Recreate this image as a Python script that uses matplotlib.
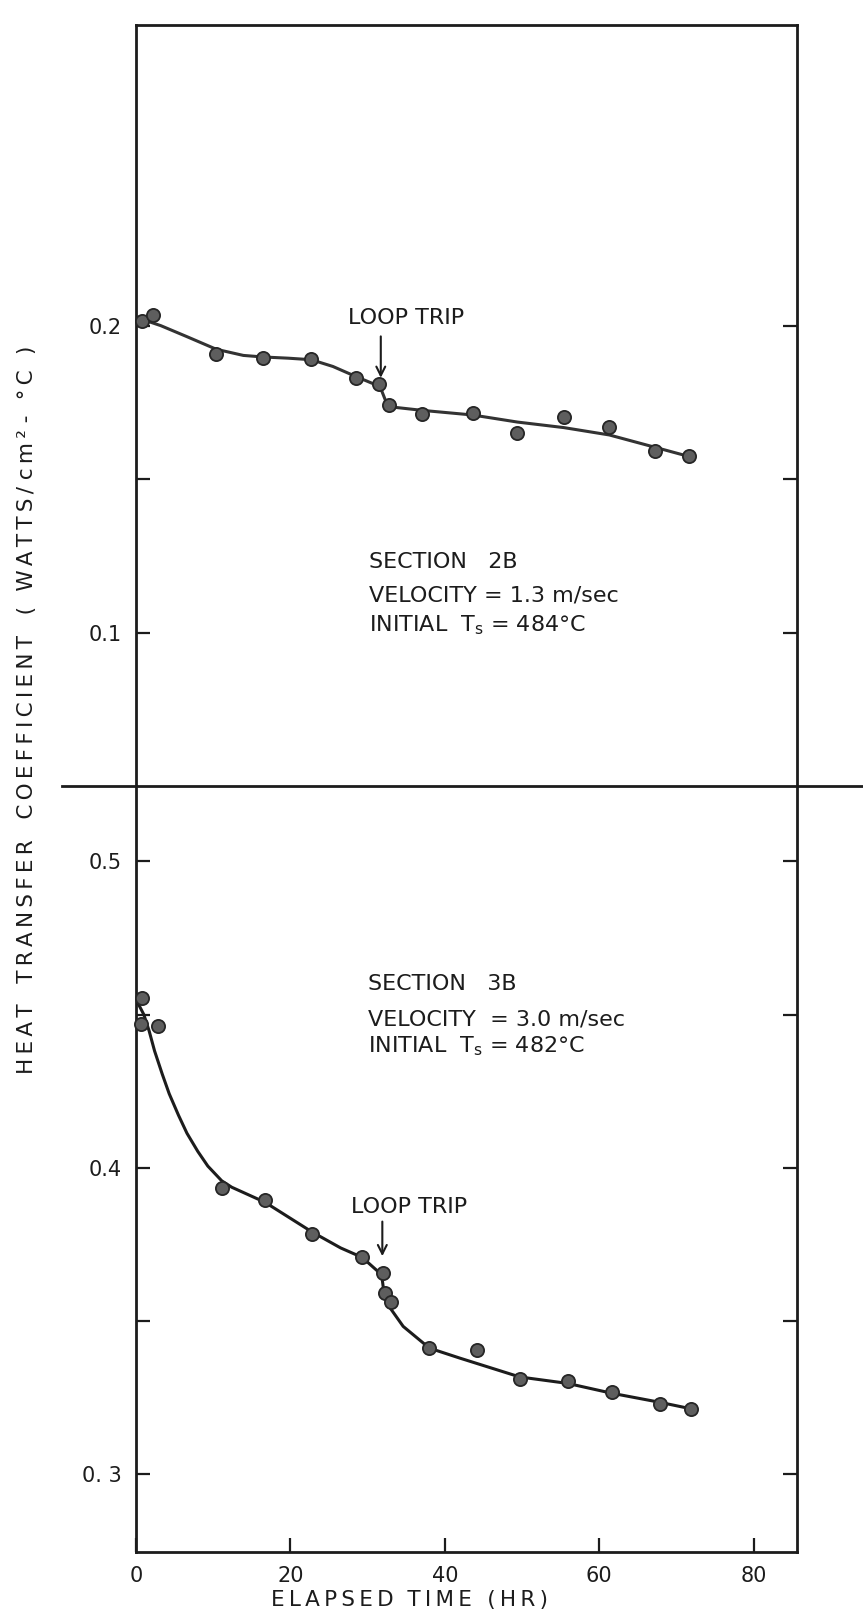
import matplotlib
matplotlib.use("Agg")
import matplotlib.pyplot as plt
from matplotlib.lines import Line2D

plt.rcParams['font.family'] = ['DejaVu Sans']

# Section 2B (1.3 m/sec) - measured points and faired curve
top_hr = [0.8, 2.2, 10.4, 16.4, 22.7, 28.5, 31.5, 32.7, 37.1, 43.6, 49.4, 55.4, 61.3, 67.2, 71.6]
top_h = [0.2016, 0.2036, 0.1909, 0.1897, 0.1893, 0.1832, 0.1812, 0.1744, 0.1714, 0.1716,
         0.1652, 0.1704, 0.1670, 0.1594, 0.1578]
top_fit_hr = [0, 3.2, 6.6, 10.4, 13.9, 16.4, 19.7, 22.7, 25.5, 28.5, 30.8, 31.8, 32.3, 32.8,
              37.1, 43.6, 49.4, 55.4, 61.3, 67.2, 71.6]
top_fit_h = [0.2028, 0.2001, 0.1965, 0.1924, 0.1904, 0.1899, 0.1895, 0.1890, 0.1868, 0.1835,
             0.1811, 0.1790, 0.1758, 0.1737, 0.1725, 0.1710, 0.1687, 0.1669, 0.1645, 0.1605, 0.1575]

# Section 3B (3.0 m/sec)
bot_hr = [0.8, 0.6, 2.9, 11.1, 16.7, 22.8, 29.3, 32.0, 32.2, 33.0, 38.0, 44.1, 49.7, 55.9,
          61.6, 67.9, 71.9]
bot_h = [0.4555, 0.4470, 0.4464, 0.3936, 0.3896, 0.3786, 0.3710, 0.3657, 0.3593, 0.3561,
         0.3412, 0.3405, 0.3310, 0.3306, 0.3268, 0.3231, 0.3212]
bot_fit_hr = [0.3, 1.0, 1.7, 2.4, 3.4, 4.3, 5.5, 6.6, 8.0, 9.3, 11.1, 12.4, 16.7, 22.8, 26.5,
              29.3, 31.3, 31.9, 32.1, 32.8, 34.6, 38.0, 42.0, 49.7, 55.9, 61.6, 67.9, 71.9]
bot_fit_h = [0.4535, 0.4501, 0.4447, 0.4382, 0.4306, 0.4242, 0.4172, 0.4113, 0.4054, 0.4006,
             0.3958, 0.3937, 0.3888, 0.3791, 0.3739, 0.3708, 0.3663, 0.3634, 0.3595, 0.3547,
             0.3483, 0.3412, 0.3379, 0.3318, 0.3297, 0.3265, 0.3235, 0.3214]

x_ticks = [0, 20, 40, 60, 80]
top_yticks = [0.1, 0.15, 0.2]
top_ylabels = ['0.1', '', '0.2']
bot_yticks = [0.3, 0.35, 0.4, 0.45, 0.5]
bot_ylabels = ['0. 3', '', '0.4', '', '0.5']


def spaced(s):
    return '\u2009'.join(s)


fig = plt.figure(figsize=(8.63, 16.19), dpi=100)
ax1 = fig.add_axes([0.1576, 0.5145, 0.7659, 0.4701])
ax2 = fig.add_axes([0.1576, 0.0414, 0.7659, 0.4731], sharex=ax1)

ink = '#1c1c1c'
for ax in (ax1, ax2):
    for s in ax.spines.values():
        s.set_linewidth(2.0)
        s.set_color(ink)
    ax.tick_params(axis='y', direction='in', left=True, right=True, length=10, width=1.6,
                   pad=10, labelsize=15, colors=ink)
ax1.spines['bottom'].set_visible(False)
ax2.spines['top'].set_visible(False)

ax1.set_xlim(0, 85.6)
ax1.set_ylim(0.0502, 0.298)
ax2.set_ylim(0.2747, 0.5246)

ax1.set_yticks(top_yticks)
ax1.set_yticklabels(top_ylabels)
ax2.set_yticks(bot_yticks)
ax2.set_yticklabels(bot_ylabels)

ax1.tick_params(axis='x', bottom=False, labelbottom=False)
ax2.set_xticks(x_ticks)
ax2.set_xticklabels([str(v) for v in x_ticks])
ax2.tick_params(axis='x', direction='in', length=10, width=1.6, pad=10, labelsize=15,
                colors=ink)

mk = dict(marker='o', linestyle='none', markersize=9.5, markerfacecolor='#5e5e5e',
          markeredgecolor='#262626', markeredgewidth=1.3, zorder=3, clip_on=False)
ax1.plot(top_fit_hr, top_fit_h, color='#333333', lw=2.2, solid_joinstyle='round',
         solid_capstyle='round', zorder=2)
ax1.plot(top_hr, top_h, **mk)
ax2.plot(bot_fit_hr, bot_fit_h, color=ink, lw=2.2, solid_joinstyle='round',
         solid_capstyle='round', zorder=2)
ax2.plot(bot_hr, bot_h, **mk)

arrow = dict(arrowstyle='->', lw=1.5, color=ink, mutation_scale=16)
ax1.text(35.0, 0.2026, 'LOOP TRIP', fontsize=16, ha='center', va='center', color=ink)
ax1.annotate('', xy=(31.7, 0.1822), xytext=(31.7, 0.1975), arrowprops=arrow)
ax2.text(35.4, 0.3871, 'LOOP TRIP', fontsize=16, ha='center', va='center', color=ink)
ax2.annotate('', xy=(31.9, 0.3703), xytext=(31.9, 0.3834), arrowprops=arrow)

ax1.text(30.2, 0.1230, 'SECTION   2B', fontsize=16, va='center', color=ink)
ax1.text(30.2, 0.1123, 'VELOCITY = 1.3 m/sec', fontsize=16, va='center', color=ink)
ax1.text(30.2, 0.1027, r'INITIAL  $\mathregular{T_s}$ = 484°C', fontsize=16, va='center',
         color=ink)

ax2.text(30.0, 0.4600, 'SECTION   3B', fontsize=16, va='center', color=ink)
ax2.text(30.0, 0.4485, 'VELOCITY  = 3.0 m/sec', fontsize=16, va='center', color=ink)
ax2.text(30.0, 0.4397, r'INITIAL  $\mathregular{T_s}$ = 482°C', fontsize=16, va='center',
         color=ink)

# divider between the two panels, running past the frame
fig.add_artist(Line2D([0.0718, 1.0], [0.5145, 0.5145], transform=fig.transFigure,
                      color=ink, lw=2.0))

ylabel = spaced('HEAT') + '   ' + spaced('TRANSFER') + '   ' + spaced('COEFFICIENT') + \
    '   ' + spaced('( WATTS/') + ' ' + spaced('cm²') + ' ' + spaced('- °C )')
fig.text(0.031, 0.5614, ylabel, rotation=90, ha='center', va='center', fontsize=15.5,
         color=ink)
fig.text(0.475, 0.0115, spaced('ELAPSED') + '  ' + spaced('TIME (HR)'), ha='center',
         va='center', fontsize=15.5, color=ink)

fig.savefig('out.png', dpi=100, facecolor='white')
